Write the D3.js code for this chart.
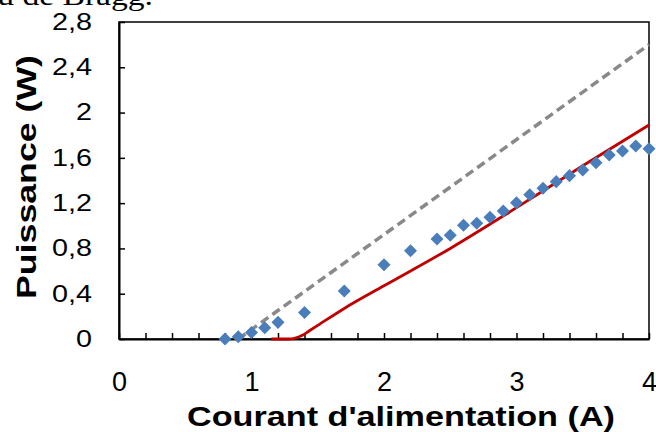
<!DOCTYPE html>
<html><head><meta charset="utf-8">
<script src="https://cdn.jsdelivr.net/npm/d3@7"></script>
<style>html,body{margin:0;padding:0;background:#fff;overflow:hidden}</style>
</head><body>
<script>
// Data
const measuredX = [0.8,0.9,1.0,1.1,1.2,1.4,1.7,2.0,2.2,2.4,2.5,2.6,2.7,2.8,2.9,3.0,3.1,3.2,3.3,3.4,3.5,3.6,3.7,3.8,3.9,4.0];
const measuredY = [0,0.02,0.058,0.1,0.147,0.234,0.424,0.656,0.78,0.883,0.916,1.004,1.022,1.075,1.131,1.204,1.275,1.331,1.39,1.443,1.493,1.557,1.625,1.661,1.705,1.681];
const modelX = [1.15,1.28,1.33,1.38,1.44,1.5,1.7,2.0,2.5,3.0,3.5,4.0];
const modelY = [0,0,0.008,0.03,0.075,0.12,0.27,0.47,0.8,1.16,1.53,1.89];
const idealX = [0.9,4.0];
const idealY = [0,2.6];
const xTickLabels = [0,1,2,3,4];
const yTickLabels = ["0","0,4","0,8","1,2","1,6","2","2,4","2,8"];
const yTickValues = [0,0.4,0.8,1.2,1.6,2.0,2.4,2.8];
const xTitle = "Courant d'alimentation (A)";
const yTitle = "Puissance (W)";
const captionText = "réseau de Bragg.";

const W = 656, H = 432;
const FONT = "Arial, 'Liberation Sans', sans-serif";
const svg = d3.select("body").append("svg").attr("width", W).attr("height", H)
  .style("font-family", FONT);
svg.append("rect").attr("width", W).attr("height", H).attr("fill", "#fff");

const x = d3.scaleLinear().domain([0,4]).range([119,649]);
const y = d3.scaleLinear().domain([0,2.8]).range([339,22]);

// caption (cropped at top edge, as in the reference)
svg.append("g").attr("transform","translate(153,5) scale(1.2,1)")
  .append("text").attr("x", 0).attr("y", 0).attr("text-anchor","end")
  .style("font-family","'Liberation Serif', 'DejaVu Serif', serif").style("font-size","28px")
  .attr("fill","#000").text(captionText);

// frame
svg.append("rect").attr("x", x(0)).attr("y", y(2.8)).attr("width", x(4)-x(0)).attr("height", y(0)-y(2.8))
  .attr("fill","none").attr("stroke","#000").attr("stroke-width",1.5);

// x axis: ticks every 0.2 pointing up, labels at integers
const xAxis = d3.axisBottom(x).tickValues(d3.range(0, 4.0001, 0.2)).tickSizeInner(-6).tickSizeOuter(0).tickFormat("");
const gx = svg.append("g").attr("transform", `translate(0,${y(0)})`).call(xAxis);
gx.select(".domain").attr("stroke","#000").attr("stroke-width",2);
gx.selectAll(".tick line").attr("stroke","#000").attr("stroke-width",1.5);

const xLab = d3.axisBottom(x).tickValues(xTickLabels).tickSize(0).tickPadding(52).tickFormat(d3.format("d"));
const gxl = svg.append("g").attr("transform", `translate(0,${y(0)})`).call(xLab);
gxl.select(".domain").remove();
gxl.selectAll("text").style("font-size","27px").style("font-family",FONT).attr("fill","#000").attr("dy","0");

// y axis: ticks inward
const yAxis = d3.axisLeft(y).tickValues(yTickValues).tickSizeInner(-6).tickSizeOuter(0)
  .tickPadding(21.6).tickFormat((d,i)=>yTickLabels[i]);
const gy = svg.append("g").attr("transform", `translate(${x(0)},0)`).call(yAxis);
gy.select(".domain").attr("stroke","#000").attr("stroke-width",2);
gy.selectAll(".tick line").attr("stroke","#000").attr("stroke-width",1.5);
gy.selectAll("text").style("font-size","23px").style("font-family",FONT).attr("fill","#000")
  .attr("transform","scale(1.25,1)");

// ideal dashed line
const lineGen = d3.line().x(d=>x(d[0])).y(d=>y(d[1]));
svg.append("path").datum(idealX.map((v,i)=>[v, idealY[i]]))
  .attr("d", lineGen).attr("fill","none").attr("stroke","#898989").attr("stroke-width",3.5)
  .attr("stroke-dasharray","9,5");

// model red curve
svg.append("path").datum(modelX.map((v,i)=>[v, modelY[i]]))
  .attr("d", d3.line().x(d=>x(d[0])).y(d=>y(d[1])).curve(d3.curveMonotoneX))
  .attr("fill","none").attr("stroke","#c00000").attr("stroke-width",2.8);

// measured diamonds
svg.append("g").selectAll("path").data(measuredX.map((v,i)=>[v, measuredY[i]])).join("path")
  .attr("d", d3.symbol().type(d3.symbolSquare).size(85)())
  .attr("transform", d=>`translate(${x(d[0])},${y(d[1])}) rotate(45)`)
  .attr("fill","#4a7ebb");

// titles
svg.append("text").attr("x", 187).attr("y", 426)
  .attr("textLength", 428).attr("lengthAdjust","spacingAndGlyphs")
  .style("font-size","27px").style("font-weight","bold").attr("fill","#000").text(xTitle);
svg.append("text").attr("transform","translate(36,299) rotate(-90)")
  .attr("textLength", 244).attr("lengthAdjust","spacingAndGlyphs")
  .style("font-size","28px").style("font-weight","bold").attr("fill","#000").text(yTitle);
</script>
</body></html>
